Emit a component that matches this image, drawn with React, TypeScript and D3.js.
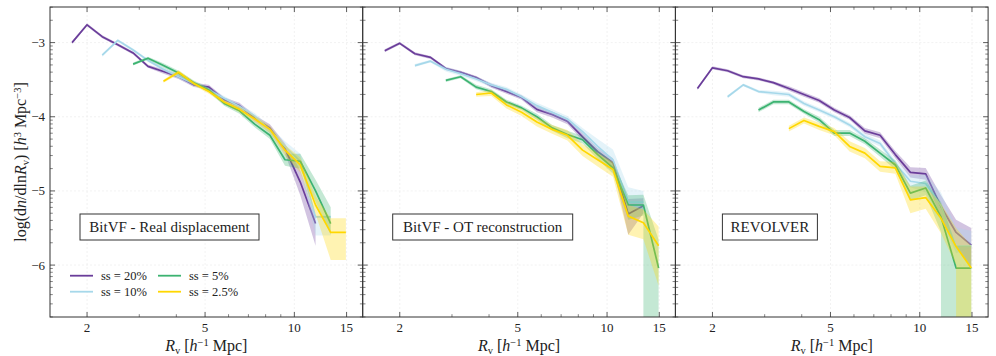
import React from "react";
import * as d3 from "d3";

// void-size bins, R_v [h^-1 Mpc]
const R_BINS = [1.78, 2.0, 2.25, 2.54, 2.86, 3.21, 3.62, 4.07, 4.58, 5.15, 5.8, 6.53, 7.35, 8.27, 9.3, 10.47, 11.79, 13.26, 14.92];

const SAMPLES = ["ss = 20%", "ss = 10%", "ss = 5%", "ss = 2.5%"];
const COLORS = ["#6a3d9a", "#a6d8ea", "#3cb371", "#ffd700"];
const START_BIN = [0, 2, 4, 6];
const PANEL_TITLES = ["BitVF - Real displacement", "BitVF - OT reconstruction", "REVOLVER"];

// --- BitVF - Real displacement ---
const REAL_20 = [-3.0, -2.76, -2.92, -3.03, -3.14, -3.32, -3.39, -3.46, -3.57, -3.6, -3.77, -3.85, -4.02, -4.15, -4.43, -4.88, -5.44];
const REAL_20_HI = [0.02, 0.02, 0.02, 0.02, 0.02, 0.02, 0.03, 0.03, 0.03, 0.03, 0.03, 0.04, 0.04, 0.05, 0.07, 0.16, 0.1];
const REAL_20_LO = [0.02, 0.02, 0.02, 0.02, 0.02, 0.02, 0.03, 0.03, 0.03, 0.03, 0.03, 0.04, 0.04, 0.05, 0.07, 0.18, 0.3];
const REAL_10 = [-3.17, -2.97, -3.1, -3.24, -3.36, -3.46, -3.55, -3.64, -3.75, -3.86, -3.99, -4.18, -4.4, -4.6, -5.35, -5.35];
const REAL_10_HI = [0.02, 0.02, 0.02, 0.02, 0.02, 0.03, 0.03, 0.03, 0.03, 0.03, 0.04, 0.05, 0.07, 0.1, 0.02, 0.02];
const REAL_10_LO = [0.02, 0.02, 0.02, 0.02, 0.02, 0.03, 0.03, 0.03, 0.03, 0.03, 0.04, 0.05, 0.07, 0.1, 0.25, 0.25];
const REAL_5 = [-3.29, -3.21, -3.31, -3.41, -3.54, -3.64, -3.82, -3.92, -4.1, -4.25, -4.58, -4.6, -5.0, -5.44];
const REAL_5_HI = [0.02, 0.02, 0.03, 0.03, 0.03, 0.03, 0.03, 0.04, 0.04, 0.05, 0.08, 0.1, 0.15, 0.22];
const REAL_5_LO = [0.02, 0.02, 0.03, 0.03, 0.03, 0.03, 0.03, 0.04, 0.04, 0.05, 0.08, 0.1, 0.15, 0.15];
const REAL_2P5 = [-3.52, -3.4, -3.55, -3.66, -3.8, -3.9, -4.03, -4.17, -4.45, -4.65, -5.19, -5.56, -5.56];
const REAL_2P5_HI = [0.02, 0.03, 0.03, 0.03, 0.03, 0.04, 0.04, 0.05, 0.07, 0.1, 0.12, 0.19, 0.19];
const REAL_2P5_LO = [0.02, 0.03, 0.03, 0.03, 0.03, 0.04, 0.04, 0.05, 0.07, 0.1, 0.12, 0.37, 0.37];

// --- BitVF - OT reconstruction ---
const OT_20 = [-3.11, -3.01, -3.15, -3.2, -3.35, -3.4, -3.47, -3.58, -3.66, -3.74, -3.9, -3.97, -4.06, -4.27, -4.47, -4.62, -5.31, -5.2];
const OT_20_HI = [0.02, 0.02, 0.02, 0.02, 0.02, 0.02, 0.02, 0.03, 0.03, 0.03, 0.04, 0.04, 0.04, 0.05, 0.05, 0.06, 0.2, 0.1];
const OT_20_LO = [0.02, 0.02, 0.02, 0.02, 0.02, 0.02, 0.02, 0.03, 0.03, 0.03, 0.04, 0.04, 0.04, 0.05, 0.05, 0.06, 0.28, 0.1];
const OT_10 = [-3.31, -3.25, -3.36, -3.42, -3.49, -3.57, -3.63, -3.73, -3.85, -3.94, -4.03, -4.2, -4.4, -4.58, -5.15, -5.15];
const OT_10_HI = [0.02, 0.02, 0.03, 0.03, 0.03, 0.03, 0.03, 0.03, 0.04, 0.04, 0.04, 0.05, 0.1, 0.14, 0.2, 0.15];
const OT_10_LO = [0.02, 0.02, 0.03, 0.03, 0.03, 0.03, 0.03, 0.03, 0.04, 0.04, 0.04, 0.05, 0.08, 0.1, 0.1, 0.1];
const OT_5 = [-3.51, -3.46, -3.6, -3.66, -3.8, -3.88, -4.0, -4.15, -4.24, -4.31, -4.51, -4.69, -5.19, -5.19, -6.04];
const OT_5_HI = [0.02, 0.02, 0.03, 0.03, 0.03, 0.03, 0.04, 0.04, 0.05, 0.05, 0.06, 0.08, 0.13, 0.14, 0.38];
const OT_5_LO = [0.02, 0.02, 0.03, 0.03, 0.03, 0.03, 0.04, 0.04, 0.05, 0.05, 0.06, 0.08, 0.2, null, null];
const OT_2P5 = [-3.7, -3.68, -3.84, -3.94, -4.07, -4.17, -4.25, -4.45, -4.58, -4.71, -5.34, -5.43, -5.74];
const OT_2P5_HI = [0.03, 0.04, 0.05, 0.05, 0.06, 0.06, 0.07, 0.08, 0.09, 0.1, 0.15, 0.18, 0.26];
const OT_2P5_LO = [0.03, 0.04, 0.05, 0.05, 0.06, 0.06, 0.07, 0.08, 0.09, 0.1, 0.25, 0.22, 0.54];

// --- REVOLVER ---
const REV_20 = [-3.62, -3.34, -3.38, -3.46, -3.49, -3.54, -3.62, -3.7, -3.78, -3.91, -4.01, -4.19, -4.25, -4.51, -4.75, -4.77, -5.21, -5.56, -5.73];
const REV_20_HI = [0.02, 0.02, 0.02, 0.02, 0.02, 0.02, 0.03, 0.03, 0.03, 0.03, 0.03, 0.04, 0.04, 0.05, 0.07, 0.08, 0.15, 0.17, 0.23];
const REV_20_LO = [0.02, 0.02, 0.02, 0.02, 0.02, 0.02, 0.03, 0.03, 0.03, 0.03, 0.03, 0.04, 0.04, 0.05, 0.07, 0.08, 0.15, 0.2, 0.3];
const REV_10 = [-3.73, -3.57, -3.66, -3.68, -3.7, -3.82, -3.91, -4.0, -4.11, -4.27, -4.36, -4.63, -4.87, -4.9, -5.2, -5.74, -5.74];
const REV_10_HI = [0.02, 0.02, 0.02, 0.03, 0.03, 0.03, 0.03, 0.03, 0.03, 0.04, 0.04, 0.05, 0.08, 0.12, 0.18, 0.25, 0.2];
const REV_10_LO = [0.02, 0.02, 0.02, 0.03, 0.03, 0.03, 0.03, 0.03, 0.03, 0.04, 0.04, 0.05, 0.08, 0.12, 0.18, 0.1, 0.02];
const REV_5 = [-3.91, -3.8, -3.8, -3.93, -4.04, -4.22, -4.22, -4.33, -4.49, -4.65, -5.03, -4.96, -5.35, -6.04, -6.04];
const REV_5_HI = [0.03, 0.03, 0.03, 0.03, 0.04, 0.04, 0.04, 0.04, 0.05, 0.06, 0.1, 0.1, 0.2, 0.3, 0.3];
const REV_5_LO = [0.03, 0.03, 0.03, 0.03, 0.04, 0.04, 0.04, 0.04, 0.05, 0.06, 0.1, 0.1, null, null, null];
const REV_2P5 = [-4.16, -4.05, -4.13, -4.2, -4.4, -4.49, -4.67, -4.69, -5.12, -5.09, -5.37, -5.75, -6.04];
const REV_2P5_HI = [0.04, 0.04, 0.05, 0.05, 0.07, 0.07, 0.07, 0.08, 0.18, 0.15, 0.2, 0.25, 0.3];
const REV_2P5_LO = [0.04, 0.04, 0.05, 0.05, 0.07, 0.07, 0.07, 0.08, 0.18, 0.15, 0.2, null, null];

const X_TICKS = [2, 5, 10, 15];
const X_MINOR = [3, 4, 6, 7, 8, 9];
const Y_TICKS = [-3, -4, -5, -6];

const PANELS = [
  { values: [REAL_20, REAL_10, REAL_5, REAL_2P5], hi: [REAL_20_HI, REAL_10_HI, REAL_5_HI, REAL_2P5_HI], lo: [REAL_20_LO, REAL_10_LO, REAL_5_LO, REAL_2P5_LO] },
  { values: [OT_20, OT_10, OT_5, OT_2P5], hi: [OT_20_HI, OT_10_HI, OT_5_HI, OT_2P5_HI], lo: [OT_20_LO, OT_10_LO, OT_5_LO, OT_2P5_LO] },
  { values: [REV_20, REV_10, REV_5, REV_2P5], hi: [REV_20_HI, REV_10_HI, REV_5_HI, REV_2P5_HI], lo: [REV_20_LO, REV_10_LO, REV_5_LO, REV_2P5_LO] },
];

const W = 996, H = 356;
const LEFT = 50, TOP = 7, BOTTOM = 317;
const PW = 312.7;
const BOX = [{ dx: 30, w: 179 }, { dx: 30, w: 180 }, { dx: 47, w: 95 }];
const FONT = '"Liberation Serif", "Times New Roman", "DejaVu Serif", serif';
const INK = "#333";
const TXT = { fontFamily: FONT, fill: "#222" };

const y = d3.scaleLinear().domain([-6.7, -2.52]).range([BOTTOM, TOP]);

// log-axis minor ticks on the y axis (values are log10)
const Y_MINOR: number[] = [];
for (let n = -7; n <= -3; n++) {
  for (let k = 2; k <= 9; k++) {
    const v = n + Math.log10(k);
    if (v > -6.7 && v < -2.52) Y_MINOR.push(v);
  }
}

type Pt = { r: number; v: number; hi: number; lo: number };

function bandPoints(vals: number[], hi: number[], lo: (number | null)[], start: number): Pt[] {
  const pts: Pt[] = [];
  vals.forEach((v, i) => {
    const r = R_BINS[start + i];
    const h = v + hi[i];
    if (lo[i] === null) {
      // empty bin below: band drops to the bottom of the axes at this bin
      if (i > 0 && lo[i - 1] !== null) pts.push({ r, v, hi: h, lo: v - hi[i] });
      pts.push({ r, v, hi: h, lo: -99 });
    } else {
      pts.push({ r, v, hi: h, lo: v - (lo[i] as number) });
    }
  });
  return pts;
}

function Panel({ idx }: { idx: number }) {
  const x0 = LEFT + idx * PW;
  const x = d3.scaleLog().domain([1.5, 17]).range([x0, x0 + PW]);
  const p = PANELS[idx];
  const clipId = `clip-${idx}`;

  const area = d3.area<Pt>().x(d => x(d.r)).y0(d => y(d.lo)).y1(d => y(d.hi));
  const line = d3.line<Pt>().x(d => x(d.r)).y(d => y(d.v));

  const series = p.values.map((vals, s) => bandPoints(vals, p.hi[s], p.lo[s], START_BIN[s]));

  const box = BOX[idx];
  const bx = x0 + box.dx;

  return (
    <g>
      <defs>
        <clipPath id={clipId}>
          <rect x={x0} y={TOP} width={PW} height={BOTTOM - TOP} />
        </clipPath>
      </defs>
      {/* grid */}
      {X_TICKS.map(t => (
        <line key={"gx" + t} x1={x(t)} x2={x(t)} y1={TOP} y2={BOTTOM} stroke="#ececec" strokeWidth={0.7} strokeDasharray="2 2" />
      ))}
      {Y_TICKS.map(t => (
        <line key={"gy" + t} x1={x0} x2={x0 + PW} y1={y(t)} y2={y(t)} stroke="#ececec" strokeWidth={0.7} strokeDasharray="2 2" />
      ))}
      {/* data */}
      <g clipPath={`url(#${clipId})`}>
        {series.map((pts, s) => (
          <g key={s}>
            <path d={area(pts) || ""} fill={COLORS[s]} fillOpacity={0.3} stroke="none" />
            <path d={line(pts) || ""} fill="none" stroke={COLORS[s]} strokeWidth={1.7} strokeLinejoin="round" />
          </g>
        ))}
      </g>
      {/* frame */}
      <rect x={x0} y={TOP} width={PW} height={BOTTOM - TOP} fill="none" stroke={INK} strokeWidth={1} />
      {/* x ticks (inward, bottom and top) */}
      {X_TICKS.map(t => (
        <g key={"xt" + t}>
          <line x1={x(t)} x2={x(t)} y1={BOTTOM} y2={BOTTOM - 5} stroke={INK} strokeWidth={0.8} />
          <line x1={x(t)} x2={x(t)} y1={TOP} y2={TOP + 5} stroke={INK} strokeWidth={0.8} />
          <text x={x(t)} y={332} textAnchor="middle" fontSize={13} style={TXT}>{t}</text>
        </g>
      ))}
      {X_MINOR.map(t => (
        <g key={"xm" + t}>
          <line x1={x(t)} x2={x(t)} y1={BOTTOM} y2={BOTTOM - 2.8} stroke={INK} strokeWidth={0.6} />
          <line x1={x(t)} x2={x(t)} y1={TOP} y2={TOP + 2.8} stroke={INK} strokeWidth={0.6} />
        </g>
      ))}
      {/* y ticks (inward, left and right) */}
      {Y_TICKS.map(t => (
        <g key={"yt" + t}>
          <line x1={x0} x2={x0 + 5} y1={y(t)} y2={y(t)} stroke={INK} strokeWidth={0.8} />
          <line x1={x0 + PW} x2={x0 + PW - 5} y1={y(t)} y2={y(t)} stroke={INK} strokeWidth={0.8} />
          {idx === 0 && (
            <text x={x0 - 5} y={y(t)} dy="0.35em" textAnchor="end" fontSize={13} style={TXT}>{"\u2212" + Math.abs(t)}</text>
          )}
        </g>
      ))}
      {Y_MINOR.map((t, i) => (
        <g key={"ym" + i}>
          <line x1={x0} x2={x0 + 2.8} y1={y(t)} y2={y(t)} stroke={INK} strokeWidth={0.6} />
          <line x1={x0 + PW} x2={x0 + PW - 2.8} y1={y(t)} y2={y(t)} stroke={INK} strokeWidth={0.6} />
        </g>
      ))}
      {/* panel label */}
      <rect x={bx} y={214} width={box.w} height={26} fill="#fff" stroke={INK} strokeWidth={1} />
      <text x={bx + box.w / 2} y={227} dy="0.35em" textAnchor="middle" fontSize={15} style={TXT}>{PANEL_TITLES[idx]}</text>
      {/* x label */}
      <text x={x0 + PW / 2} y={351} textAnchor="middle" fontSize={16} style={TXT}>
        <tspan fontStyle="italic">R</tspan>
        <tspan fontSize={10.5} dy={3}>v</tspan>
        <tspan dy={-3}>{" ["}</tspan>
        <tspan fontStyle="italic">h</tspan>
        <tspan fontSize={10.5} dy={-5.5}>{"\u22121"}</tspan>
        <tspan dy={5.5}>{" Mpc]"}</tspan>
      </text>
      {idx === 0 && (
        <g>
          {SAMPLES.map((lab, s) => {
            const col = s === 0 || s === 1 ? 0 : 1;
            const row = s % 2;
            const lx = x0 + 20 + col * 88;
            const ly = TOP + 268.7 + row * 16;
            return (
              <g key={lab}>
                <line x1={lx} x2={lx + 23} y1={ly} y2={ly} stroke={COLORS[s]} strokeWidth={1.8} />
                <text x={lx + 31} y={ly} dy="0.35em" fontSize={12.5} style={TXT}>{lab}</text>
              </g>
            );
          })}
        </g>
      )}
    </g>
  );
}

export default function App() {
  const ylx = 20.5, yly = (TOP + BOTTOM) / 2;
  return (
    <svg width={W} height={H} style={{ position: "absolute", left: 0, top: 0, background: "#fff", fontFamily: FONT }}>
      <rect width={W} height={H} fill="#fff" />
      {[0, 1, 2].map(i => <Panel key={i} idx={i} />)}
      <text transform={`translate(${ylx},${yly}) rotate(-90)`} textAnchor="middle" dy="0.35em" fontSize={16} style={TXT}>
        <tspan>{"log(d"}</tspan>
        <tspan fontStyle="italic">n</tspan>
        <tspan>{"/dln"}</tspan>
        <tspan fontStyle="italic">R</tspan>
        <tspan fontSize={10.5} dy={3}>v</tspan>
        <tspan dy={-3}>{") ["}</tspan>
        <tspan fontStyle="italic">h</tspan>
        <tspan fontSize={10.5} dy={-5.5}>3</tspan>
        <tspan dy={5.5}>{" Mpc"}</tspan>
        <tspan fontSize={10.5} dy={-5.5}>{"\u22123"}</tspan>
        <tspan dy={5.5}>]</tspan>
      </text>
    </svg>
  );
}
